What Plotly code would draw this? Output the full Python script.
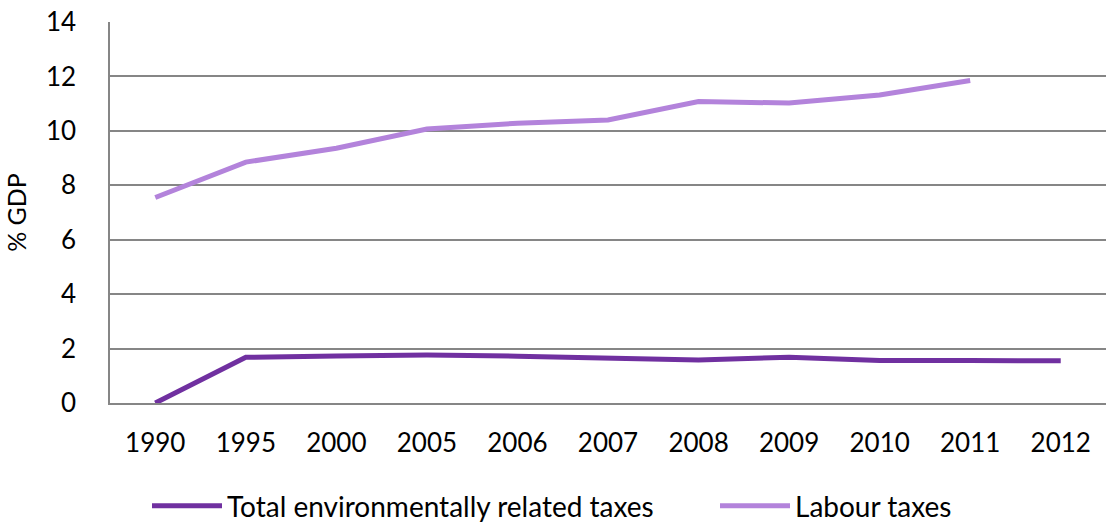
import plotly.graph_objects as go

years = ["1990", "1995", "2000", "2005", "2006", "2007", "2008", "2009", "2010", "2011", "2012"]
env_taxes = [0.0, 1.68, 1.73, 1.76, 1.72, 1.67, 1.58, 1.68, 1.56, 1.56, 1.55]
labour_taxes = [7.55, 8.85, 9.36, 10.07, 10.28, 10.4, 11.08, 11.02, 11.32, 11.85, None]
y_ticks = [0, 2, 4, 6, 8, 10, 12, 14]

FONT = "Lato, 'Open Sans', sans-serif"
W, H = 1106, 523

fig = go.Figure()
fig.add_trace(go.Scatter(x=years, y=env_taxes, mode="lines",
                         name="Total environmentally related taxes",
                         legend="legend",
                         line=dict(color="#7030A0", width=5)))
fig.add_trace(go.Scatter(x=years, y=labour_taxes, mode="lines",
                         name="Labour taxes",
                         legend="legend2",
                         line=dict(color="#B383DB", width=5)))

leg_common = dict(orientation="h", xref="container", yref="container",
                  xanchor="left", yanchor="middle", itemwidth=70,
                  font=dict(size=28), bgcolor="rgba(0,0,0,0)")

fig.update_layout(
    width=W, height=H,
    margin=dict(l=110, r=0, t=22, b=120),
    paper_bgcolor="white", plot_bgcolor="white",
    font=dict(family=FONT, size=26, color="#000000"),
    showlegend=True,
    legend=dict(x=147 / W, y=1 - 506 / H, **leg_common),
    legend2=dict(x=715 / W, y=1 - 506 / H, **leg_common),
    xaxis=dict(type="category", range=[-0.5, 10.5], showgrid=False, showline=True,
               linecolor="#868686", linewidth=1.5, ticks="",
               ticklabelstandoff=16, zeroline=False),
    yaxis=dict(range=[0, 14], tickvals=y_ticks, showgrid=True,
               gridcolor="#868686", gridwidth=1.5, showline=True,
               linecolor="#868686", linewidth=1.5, zeroline=False,
               ticklabelstandoff=27,
               title=dict(text="% GDP", font=dict(size=25), standoff=12)),
)

fig.write_html("out.html")
